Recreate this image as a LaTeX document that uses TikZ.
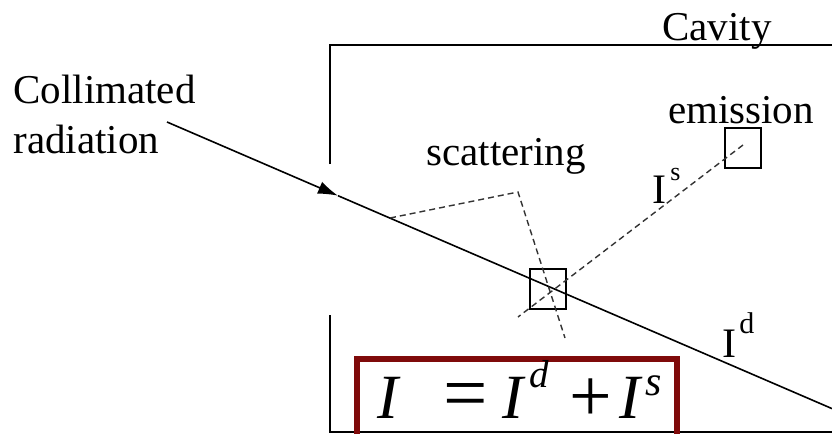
\documentclass[tikz,border=0pt]{standalone}
\usepackage{fontspec}
\usepackage{graphicx}
\setmainfont{Liberation Serif}
\usetikzlibrary{arrows.meta}
\definecolor{eqred}{HTML}{7F0A0A}
\begin{document}
\begin{tikzpicture}[x=0.5pt,y=-0.5pt,
  wall/.style={line width=0.8pt},
  ray/.style={line width=0.8pt},
  scat/.style={line width=0.7pt, dash pattern=on 3pt off 2pt, black!80},
  lab/.style={font=\fontsize{20.5}{24}\selectfont, inner sep=0pt},
  probe/.style={draw, line width=0.8pt, minimum width=18pt, minimum height=20pt, inner sep=0pt},
  eqframe/.style={draw=eqred, line width=2.8pt}]
\useasboundingbox (0,0) rectangle (832,434);
% cavity walls
\draw[wall] (330,164) -- (330,45) -- (832,45);
\draw[wall] (330,315) -- (330,432) -- (832,432);
\node[lab, anchor=base] (cavity) at (717,40) {Cavity};
% probe volumes
\node[probe] (sbox) at (548,289) {};
\node[probe] (ebox) at (743,148) {};
% collimated ray
\coordinate (src) at (167,122);
\coordinate (tip) at (338,195.7);
\coordinate (exit) at (832,408.6);
\draw[ray, -{Latex[length=10pt,width=6.5pt]}] (src) -- (tip);
\draw[ray] (tip) -- (exit);
\node[lab, anchor=base west] (coll) at (13,103) {Collimated};
\node[lab, anchor=base west] (radi) at (13,153) {radiation};
% scattering
\coordinate (s1) at (390,218);
\coordinate (s2) at (518,192);
\coordinate (s3) at (565,338);
\draw[scat] (s1) -- (s2) -- (s3);
\coordinate (e0) at (743,145);
\coordinate (e1) at (518,317);
\draw[scat] (e0) -- (e1);
\node[lab, anchor=base] (scatt) at (506,165) {scattering};
\node[lab, anchor=base] (emis) at (741,123) {emission};
% ray labels
\node[inner sep=0pt, anchor=base west, font=\fontsize{21}{24}\selectfont] (Is) at (652,203)
  {I\hspace{2pt}\raisebox{11.5pt}{\fontsize{13}{14}\selectfont s}};
\node[inner sep=0pt, anchor=base west, font=\fontsize{21}{24}\selectfont] (Id) at (722,357)
  {I\hspace{1.5pt}\raisebox{12pt}{\fontsize{15}{16}\selectfont d}};
% equation box
\draw[eqframe] (357,440) -- (357,359) -- (677,359) -- (677,440);
\node[inner sep=0pt, anchor=base west, font=\fontsize{31.5}{34}\selectfont] (eq) at (377,418)
  {\textit{I}\hspace{21.5pt}\raisebox{-0.8pt}{\scalebox{1.25}{=}}\hspace{7pt}\textit{I}\hspace{2pt}\raisebox{15.5pt}{\fontsize{19.5}{21}\selectfont\textit{d}}\hspace{10pt}\raisebox{-1.5pt}{\scalebox{1.2}{+}}\hspace{4pt}\textit{I}\hspace{1pt}\raisebox{11.5pt}{\fontsize{21}{22}\selectfont\textit{s}}};
\end{tikzpicture}
\end{document}
